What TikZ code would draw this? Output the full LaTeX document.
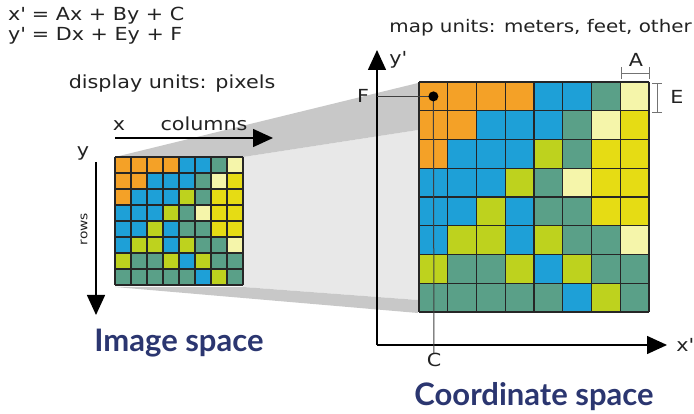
\documentclass[tikz,border=0pt]{standalone}
\usepackage{fontspec}
\setmainfont{DejaVu Sans}[FakeStretch=1.15]
\newfontfamily\letratitulo{Lato}
\usepackage{xcolor}
\usepackage{tikz}
\usetikzlibrary{arrows.meta,positioning}

\definecolor{cO}{HTML}{F4A127}
\definecolor{cB}{HTML}{1EA0D7}
\definecolor{cT}{HTML}{5AA088}
\definecolor{cG}{HTML}{BED21E}
\definecolor{cY}{HTML}{E6DC14}
\definecolor{cL}{HTML}{F5F5AA}
\definecolor{azultitulo}{HTML}{2B3670}
\definecolor{sombra}{HTML}{C8C8C8}
\definecolor{sombraclara}{HTML}{E8E8E8}
\definecolor{texto}{HTML}{222222}

\begin{document}
\begin{tikzpicture}[x=1pt,y=-1pt,
		eje/.style={line width=1.5pt,-{Triangle[length=20pt,width=18pt]}},
		rejilla/.style={line width=1.2pt,black!85},
		guia/.style={line width=1pt,black!75},
		cota/.style={line width=0.6pt,black!55},
		etiqueta/.style={inner sep=0pt,text=texto,font=\fontsize{18}{21}\selectfont},
		titulo/.style={inner sep=0pt,text=azultitulo,font=\letratitulo\bfseries\fontsize{31}{36}\selectfont},
		punto/.style={circle,fill=black,inner sep=0pt,minimum size=10pt}]
			\useasboundingbox (0,0) rectangle (694,414);

			% Proyeccion
			\fill[sombraclara] (243,157) -- (418,130) -- (418,300) -- (243,287) -- cycle;
			\fill[sombra] (115,157) -- (418,83) -- (418,130) -- (243,157) -- cycle;
			\fill[sombra] (115,287) -- (243,287) -- (418,300) -- (418,313) -- cycle;

			% Rejillas (imagen y mapa)
			\foreach \gx/\gy/\gs in {115/157/16,419/82/28.75}
				{
					\foreach \fila [count=\j from 0] in {{O,O,O,O,B,B,T,L},{O,O,B,B,B,T,L,Y},{O,B,B,B,G,T,Y,Y},{B,B,B,G,T,L,Y,Y},{B,B,G,B,T,T,Y,Y},{B,G,G,B,G,T,T,L},{G,T,T,G,B,G,T,T},{T,T,T,T,T,B,G,T}}
						{
							\foreach \col [count=\i from 0] in \fila
								{
									\fill[c\col] (\gx+\i*\gs,\gy+\j*\gs) rectangle ++(\gs,\gs);
								}
						}
					\foreach \k in {0,...,8}
						{
							\draw[rejilla] (\gx+\k*\gs,\gy) -- ++(0,8*\gs);
							\draw[rejilla] (\gx,\gy+\k*\gs) -- ++(8*\gs,0);
						}
				}

			% Textos
			\node[etiqueta,anchor=west] (ecx) at (8,16) {x\textquotesingle{} = Ax + By + C};
			\node[etiqueta,below=2pt of ecx.south west,anchor=north west] (ecy) {y\textquotesingle{} = Dx + Ey + F};
			\node[etiqueta] (pixeles) at (172,84) {display units: pixels};
			\node[etiqueta,anchor=east,font=\fontsize{17.3}{20}\selectfont] (mapa) at (692,28) {map units: meters, feet, other};
			\node[titulo] (espimagen) at (179,343) {Image space};
			\node[titulo] (espcoord) at (534,397) {Coordinate space};

			% Ejes de la imagen
			\coordinate (colini) at (115,138);
			\coordinate (colfin) at (273,138);
			\coordinate (filini) at (96,162);
			\coordinate (filfin) at (96,315);
			\draw[eje] (colini) -- (colfin);
			\draw[eje] (filini) -- (filfin);
			\node[etiqueta] (x) at (119,126) {x};
			\node[etiqueta] (columnas) at (204,124) {columns};
			\node[etiqueta] (y) at (83,153) {y};
			\node[etiqueta,rotate=90,font=\fontsize{12}{14}\selectfont] (filas) at (84,229) {rows};

			% Ejes del mapa
			\coordinate (O) at (377,345);
			\coordinate (ytip) at (377,50);
			\coordinate (xtip) at (667,345);
			\draw[eje] (O) -- (ytip);
			\draw[eje] (O) -- (xtip);
			\node[etiqueta] (xp) at (685,345) {x\textquotesingle};
			\node[etiqueta] (yp) at (398,60) {y\textquotesingle};

			% Origen F y C
			\coordinate (p) at (433.4,96.4);
			\node[etiqueta] (F) at (363,96) {F};
			\node[etiqueta] (C) at (434,360) {C};
			\draw[guia] (ytip |- p) -- (p);
			\draw[guia] (p) -- (C);
			\node[punto] (origen) at (p) {};

			% Cotas A y E
			\coordinate (a1) at (621,73);
			\coordinate (a2) at (650,73);
			\coordinate (e1) at (657,83);
			\coordinate (e2) at (657,113);
			\draw[cota,{Bar[width=12pt]}-{Bar[width=12pt]}] (a1) -- (a2);
			\draw[cota,{Bar[width=10pt]}-{Bar[width=10pt]}] (e1) -- (e2);
			\node[etiqueta] (A) at (636,60) {A};
			\node[etiqueta] (E) at (677,97) {E};

		\end{tikzpicture}
\end{document}
